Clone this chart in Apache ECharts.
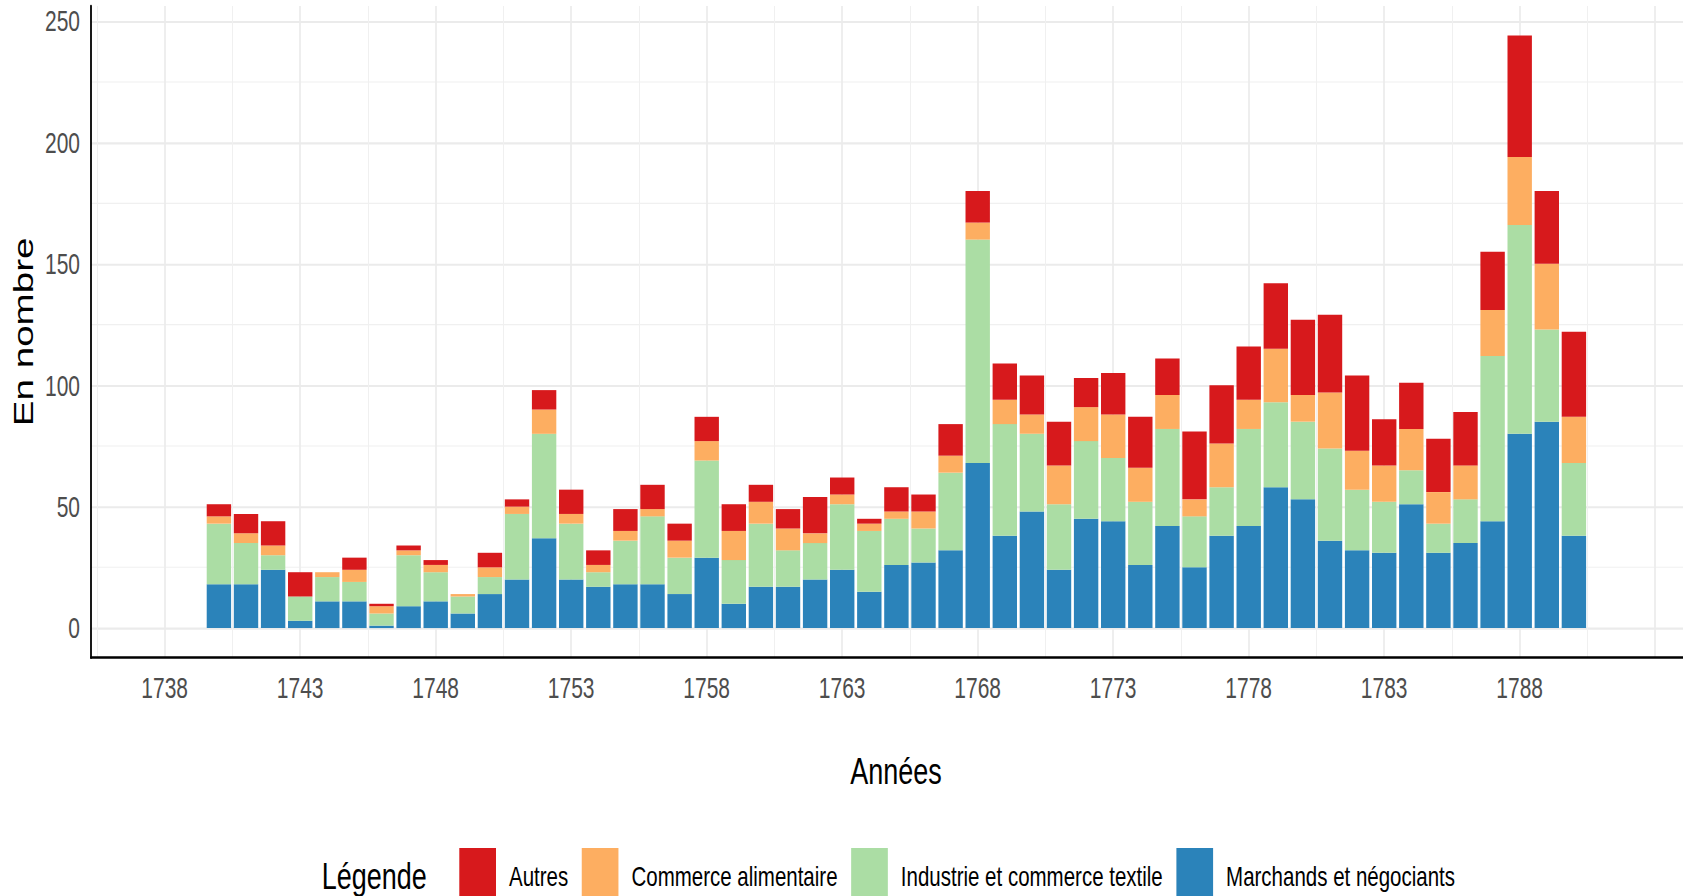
<!DOCTYPE html>
<html>
<head>
<meta charset="utf-8">
<title>Années</title>
<script src="https://cdn.jsdelivr.net/npm/echarts@6/dist/echarts.min.js"></script>
<style>
  html { overflow: hidden; }
  body { margin: 0; padding: 0; background: #fff; width: 1683px; height: 896px; }
  /* the source picture is stretched vertically, text included */
  #chart { width: 1683px; height: 650px; transform: scaleY(1.3785); transform-origin: 0 0; }
</style>
</head>
<body>
<div id="chart"></div>
<script>
const years = [1740, 1741, 1742, 1743, 1744, 1745, 1746, 1747, 1748, 1749,
  1750, 1751, 1752, 1753, 1754, 1755, 1756, 1757, 1758, 1759,
  1760, 1761, 1762, 1763, 1764, 1765, 1766, 1767, 1768, 1769,
  1770, 1771, 1772, 1773, 1774, 1775, 1776, 1777, 1778, 1779,
  1780, 1781, 1782, 1783, 1784, 1785, 1786, 1787, 1788, 1789, 1790]

const marchands = [18, 18, 24, 3, 11, 11, 1, 9, 11, 6,
  14, 20, 37, 20, 17, 18, 18, 14, 29, 10,
  17, 17, 20, 24, 15, 26, 27, 32, 68, 38,
  48, 24, 45, 44, 26, 42, 25, 38, 42, 58,
  53, 36, 32, 31, 51, 31, 35, 44, 80, 85, 38]

const textile = [25, 17, 6, 10, 10, 8, 5, 21, 12, 7,
  7, 27, 43, 23, 6, 18, 28, 15, 40, 18,
  26, 15, 15, 27, 25, 19, 14, 32, 92, 46,
  32, 27, 32, 26, 26, 40, 21, 20, 40, 35,
  32, 38, 25, 21, 14, 12, 18, 68, 86, 38, 30]

const alimentaire = [3, 4, 4, 0, 2, 5, 3, 2, 3, 1,
  4, 3, 10, 4, 3, 4, 3, 7, 8, 12,
  9, 9, 4, 4, 3, 3, 7, 7, 7, 10,
  8, 16, 14, 18, 14, 14, 7, 18, 12, 22,
  11, 23, 16, 15, 17, 13, 14, 19, 28, 27, 19]

const autres = [5, 8, 10, 10, 0, 5, 1, 2, 2, 0,
  6, 3, 8, 10, 6, 9, 10, 7, 10, 11,
  7, 8, 15, 7, 2, 10, 7, 13, 13, 15,
  16, 18, 12, 17, 21, 15, 28, 24, 22, 27,
  31, 32, 31, 19, 19, 22, 22, 24, 50, 30, 35]

const legendNames = ['Autres', 'Commerce alimentaire', 'Industrie et commerce textile', 'Marchands et négociants']

// x values are counted from the first labelled year so ticks land on 1738, 1743, ...
const YEAR0 = 1738
const font = '"Liberation Sans", Arial, sans-serif'

const chart = echarts.init(document.getElementById('chart'), null, {renderer: 'svg'})

// value first so the stack runs on y (both axes are value axes)
const bars = (name, values, color) => ({
  name,
  type: 'bar',
  stack: 'total',
  barWidth: 24.4,
  itemStyle: {color},
  encode: {x: 1, y: 0},
  data: values.map((v, i) => [v, years[i] - YEAR0])
})

chart.setOption({
  animation: false,
  grid: {left: 91, right: -18, top: 4.35, bottom: 172.9, containLabel: false, outerBoundsMode: 'none'},
  xAxis: {
    type: 'value',
    min: -2.72,
    max: 56.69,
    minInterval: 5,
    maxInterval: 5,
    name: 'Années',
    nameLocation: 'middle',
    nameGap: 69,
    nameMoveOverlap: false,
    nameTextStyle: {fontSize: 27, color: '#000', fontFamily: font},
    axisLine: {show: true, onZero: false, lineStyle: {color: '#000', width: 1.8}},
    axisTick: {show: false},
    axisLabel: {
      margin: 11, fontSize: 21, color: '#4d4d4d', fontFamily: font,
      showMinLabel: false, showMaxLabel: false,
      formatter: v => (v % 5 === 0 && v + YEAR0 <= 1790) ? String(v + YEAR0) : ''
    },
    splitLine: {show: true, showMinLine: false, showMaxLine: false, lineStyle: {color: '#ebebeb', width: 1.7}},
    minorTick: {show: false, splitNumber: 2},
    minorSplitLine: {show: true, lineStyle: {color: '#f0f0f0', width: 1}}
  },
  yAxis: {
    type: 'value',
    min: -12.2,
    max: 256.2,
    minInterval: 50,
    maxInterval: 50,
    name: 'En nombre',
    nameLocation: 'middle',
    nameGap: 54,
    nameRotate: 90,
    nameMoveOverlap: false,
    nameTextStyle: {fontSize: 28, color: '#000', fontFamily: font},
    axisLine: {show: true, onZero: false, lineStyle: {color: '#000', width: 1.8}},
    axisTick: {show: false},
    axisLabel: {
      margin: 11, fontSize: 21, color: '#4d4d4d', fontFamily: font,
      showMinLabel: false, showMaxLabel: false
    },
    splitLine: {show: true, showMinLine: false, showMaxLine: false, lineStyle: {color: '#ebebeb', width: 1.5}},
    minorTick: {show: false, splitNumber: 2},
    minorSplitLine: {show: true, lineStyle: {color: '#f0f0f0', width: 0.8}}
  },
  legend: {
    data: legendNames,
    left: 459.3,
    top: 615.2,
    padding: 0,
    icon: 'rect',
    itemWidth: 36.7,
    itemHeight: 41,
    itemGap: 13.5,
    selectedMode: false,
    textStyle: {fontSize: 20.5, color: '#000', fontFamily: font, padding: [0, 0, 0, 8]}
  },
  graphic: [{
    type: 'text',
    x: 321.7,
    y: 635.7,
    style: {text: 'Légende', fontSize: 27, fontFamily: font, fill: '#000', verticalAlign: 'middle', align: 'left'}
  }],
  series: [
    bars('Marchands et négociants', marchands, '#2b83ba'),
    bars('Industrie et commerce textile', textile, '#abdda4'),
    bars('Commerce alimentaire', alimentaire, '#fdae61'),
    bars('Autres', autres, '#d7191c')
  ]
})
</script>
</body>
</html>
